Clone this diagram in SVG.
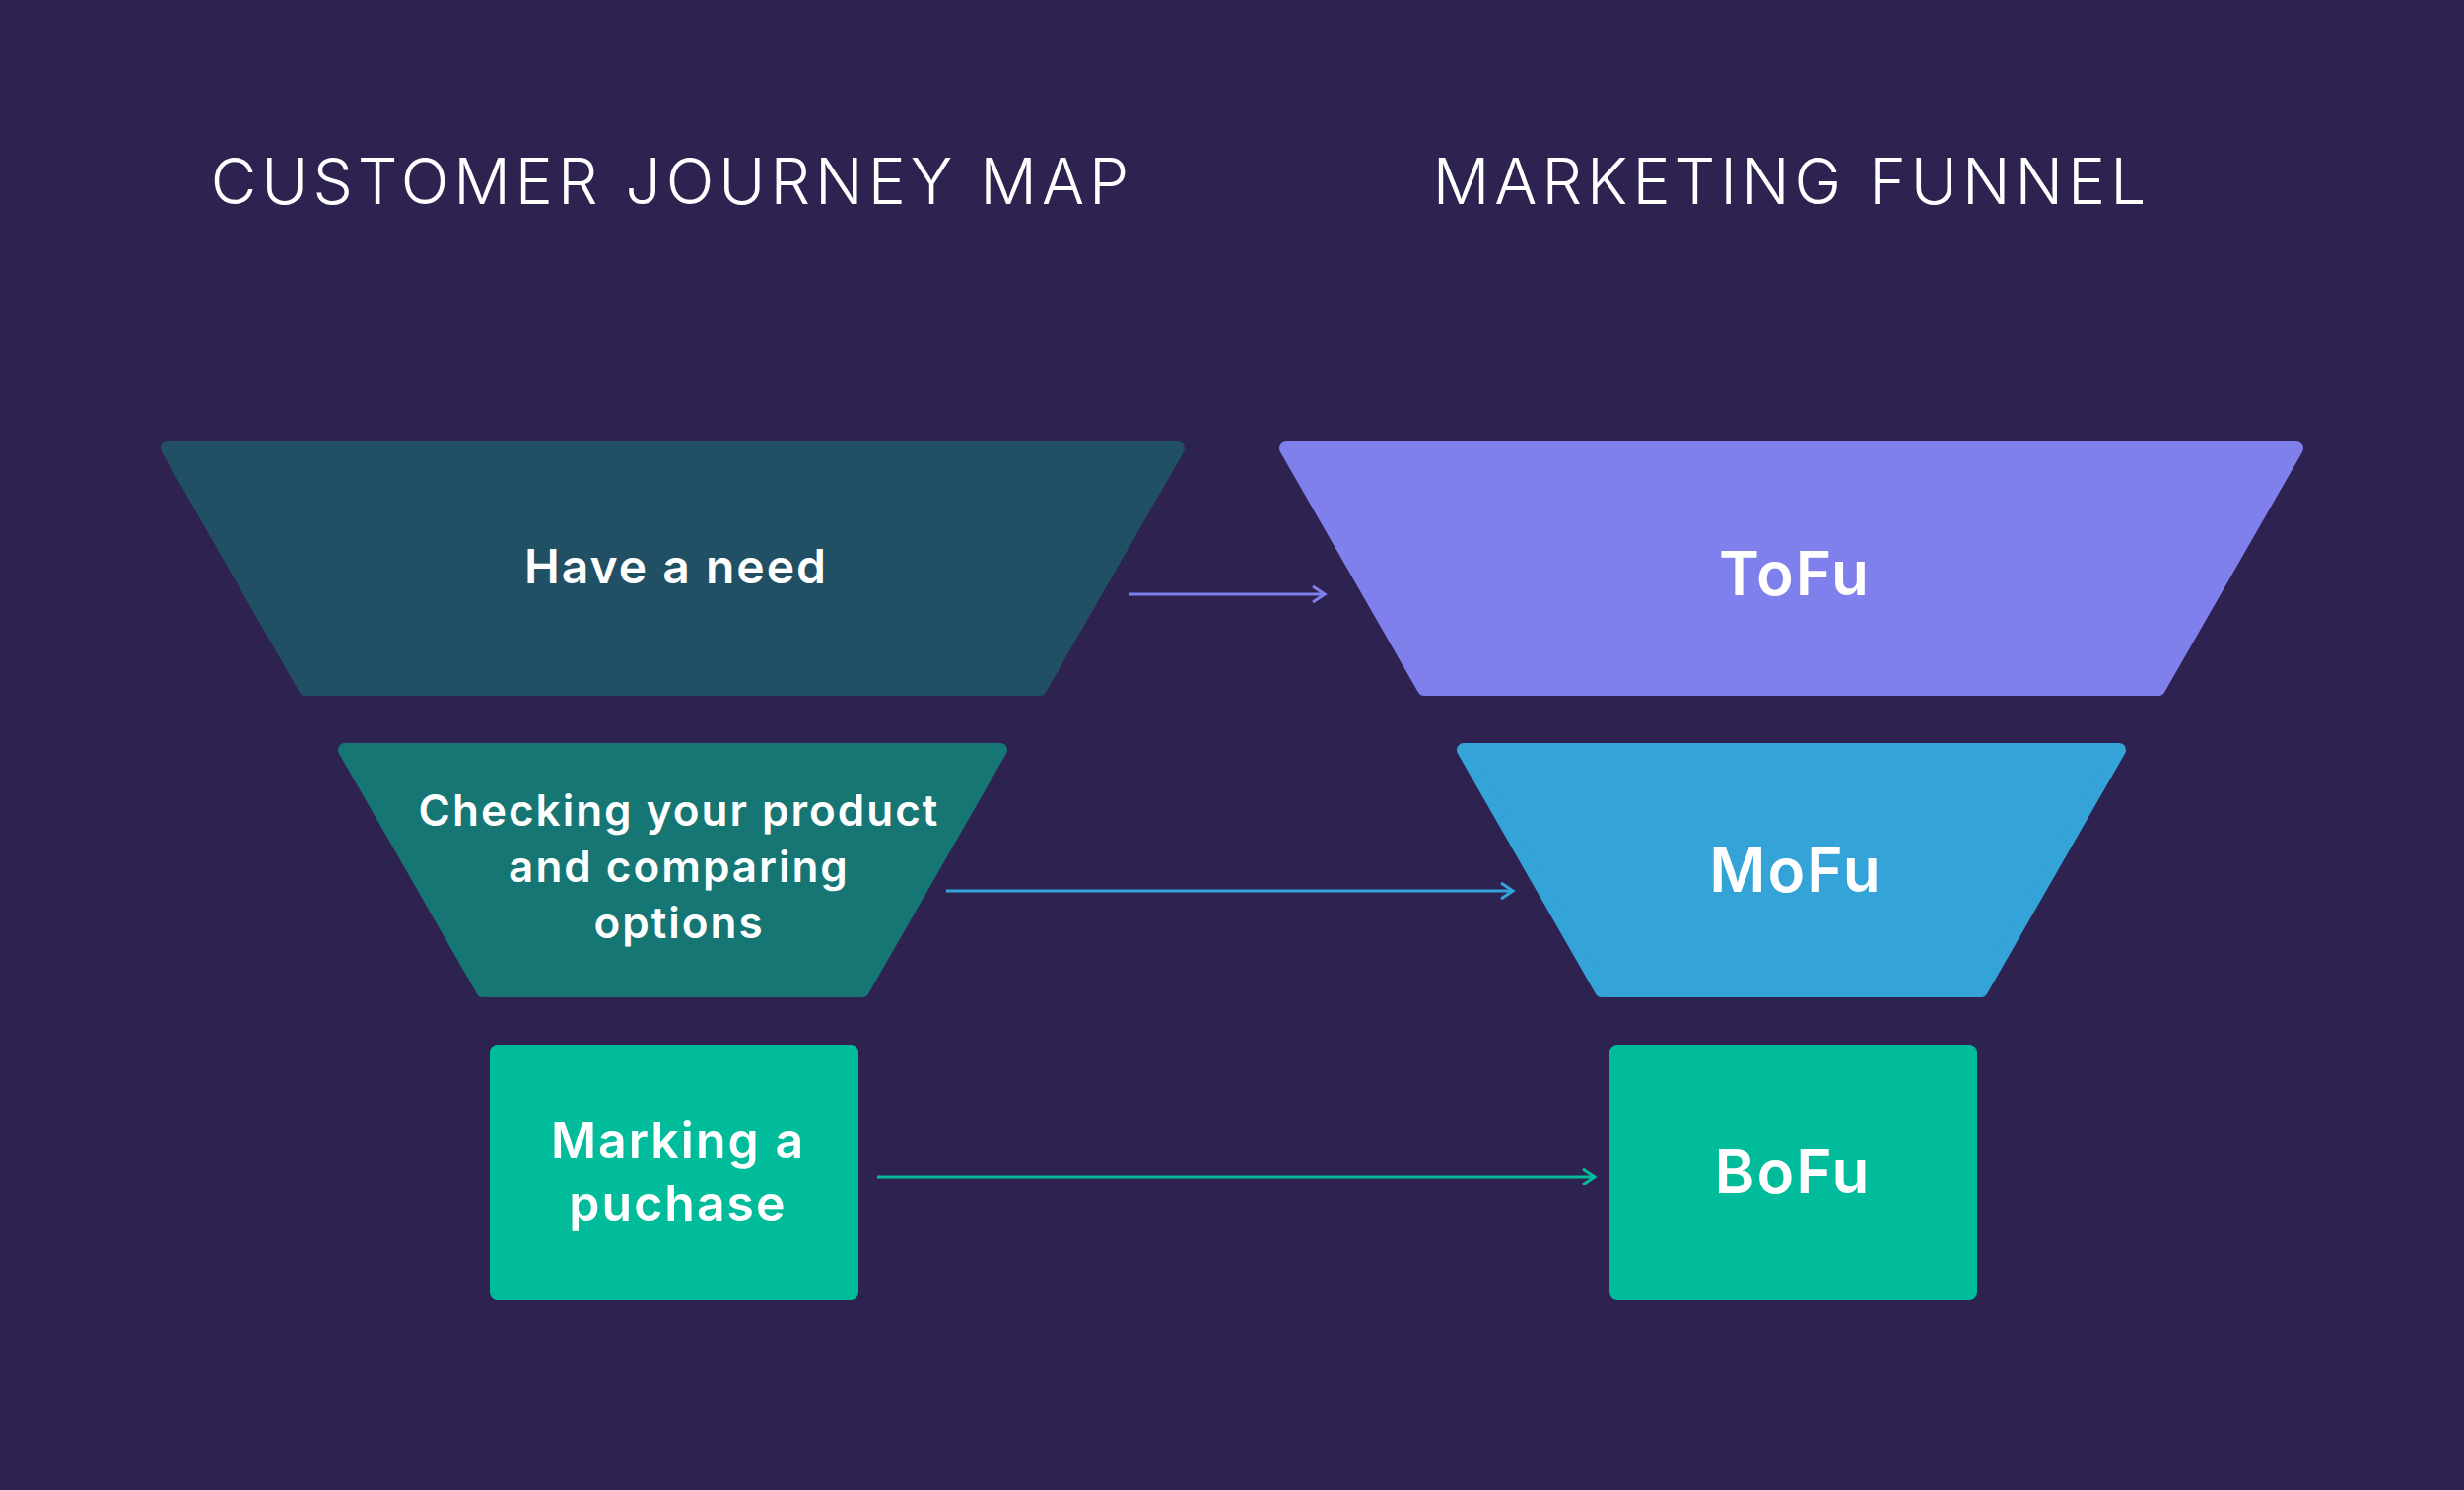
<svg xmlns="http://www.w3.org/2000/svg" width="2500" height="1512" viewBox="0 0 2500 1512">
<style>
.t{font-family:Inter,"Liberation Sans",sans-serif;fill:#fff;text-anchor:middle}
.h{font-weight:300;font-size:64px;letter-spacing:5px}
.n{font-weight:600;letter-spacing:2px}
.s{stroke-linejoin:round;stroke-width:14}
.c{fill:none;stroke-width:3}
</style>
<defs>
<marker id="a1" markerWidth="20" markerHeight="20" refX="16" refY="10" orient="auto" markerUnits="userSpaceOnUse"><path d="M4,2 L16,10 L4,18" fill="none" stroke="#7f80ec" stroke-width="3"/></marker>
<marker id="a2" markerWidth="20" markerHeight="20" refX="16" refY="10" orient="auto" markerUnits="userSpaceOnUse"><path d="M4,2 L16,10 L4,18" fill="none" stroke="#33a3d8" stroke-width="3"/></marker>
<marker id="a3" markerWidth="20" markerHeight="20" refX="16" refY="10" orient="auto" markerUnits="userSpaceOnUse"><path d="M4,2 L16,10 L4,18" fill="none" stroke="#00bc9a" stroke-width="3"/></marker>
</defs>
<rect width="2500" height="1512" fill="#2e2250"/>
<text class="t h" x="682" y="207">CUSTOMER JOURNEY MAP</text>
<text class="t h" x="1818" y="207">MARKETING FUNNEL</text>
<g id="need"><polygon class="s" points="170,455 1195,455 1055,699 310,699" fill="#214f63" stroke="#214f63"/><text class="t n" x="686" y="592" font-size="48">Have a need</text></g>
<g id="check"><polygon class="s" points="350,761 1015,761 875,1005 490,1005" fill="#167674" stroke="#167674"/><text class="t n" font-size="44" x="689"><tspan x="689" y="838">Checking your product</tspan><tspan x="689" y="895">and comparing</tspan><tspan x="689" y="952">options</tspan></text></g>
<g id="purchase"><rect x="497" y="1060" width="374" height="259" rx="8" fill="#00bc9a"/><text class="t n" font-size="50"><tspan x="688" y="1175">Marking a</tspan><tspan x="688" y="1239">puchase</tspan></text></g>
<g id="tofu"><polygon class="s" points="1305,455 2330,455 2190,699 1445,699" fill="#7f80ec" stroke="#7f80ec"/><text class="t n" x="1821" y="604" font-size="62" letter-spacing="1">ToFu</text></g>
<g id="mofu"><polygon class="s" points="1485,761 2150,761 2010,1005 1625,1005" fill="#33a3d8" stroke="#33a3d8"/><text class="t n" x="1822" y="905" font-size="62" letter-spacing="1">MoFu</text></g>
<g id="bofu"><rect x="1633" y="1060" width="373" height="259" rx="8" fill="#00bc9a"/><text class="t n" x="1819" y="1211" font-size="62" letter-spacing="1">BoFu</text></g>
<g id="connectors">
<line class="c" x1="1145" y1="603" x2="1344" y2="603" stroke="#7f80ec" marker-end="url(#a1)"/>
<line class="c" x1="960" y1="904" x2="1535" y2="904" stroke="#33a3d8" marker-end="url(#a2)"/>
<line class="c" x1="890" y1="1194" x2="1618" y2="1194" stroke="#00bc9a" marker-end="url(#a3)"/>
</g>
</svg>
